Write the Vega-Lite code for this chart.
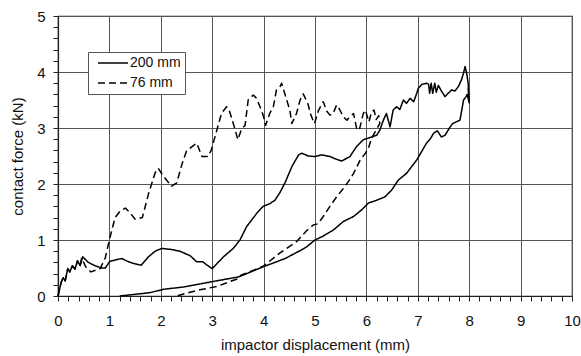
{
  "$schema": "https://vega.github.io/schema/vega-lite/v6.json",
  "width": 514,
  "height": 280,
  "autosize": "none",
  "padding": {"left": 58, "top": 16, "right": 9, "bottom": 60},
  "background": "white",
  "config": {
    "font": "Liberation Sans",
    "view": {"stroke": "#222", "strokeWidth": 1.2},
    "axis": {
      "domainColor": "#222",
      "domainWidth": 1.2,
      "tickColor": "#222",
      "tickSize": 5,
      "tickWidth": 1,
      "labelColor": "#111",
      "titleColor": "#111",
      "labelFont": "Liberation Sans",
      "titleFont": "Liberation Sans",
      "labelFontSize": 15,
      "titleFontSize": 15,
      "titleFontWeight": "normal",
      "gridColor": "#555",
      "gridWidth": 1
    }
  },
  "datasets": {
    "curves": [
      {"series": "200 mm", "i": 1, "x": 0, "y": 0},
      {"series": "200 mm", "i": 2, "x": 0.06, "y": 0.24},
      {"series": "200 mm", "i": 3, "x": 0.1, "y": 0.33},
      {"series": "200 mm", "i": 4, "x": 0.14, "y": 0.27},
      {"series": "200 mm", "i": 5, "x": 0.19, "y": 0.49},
      {"series": "200 mm", "i": 6, "x": 0.23, "y": 0.43},
      {"series": "200 mm", "i": 7, "x": 0.28, "y": 0.54},
      {"series": "200 mm", "i": 8, "x": 0.33, "y": 0.48},
      {"series": "200 mm", "i": 9, "x": 0.38, "y": 0.63},
      {"series": "200 mm", "i": 10, "x": 0.43, "y": 0.54},
      {"series": "200 mm", "i": 11, "x": 0.48, "y": 0.70},
      {"series": "200 mm", "i": 12, "x": 0.59, "y": 0.60},
      {"series": "200 mm", "i": 13, "x": 0.72, "y": 0.54},
      {"series": "200 mm", "i": 14, "x": 0.85, "y": 0.50},
      {"series": "200 mm", "i": 15, "x": 0.92, "y": 0.50},
      {"series": "200 mm", "i": 16, "x": 1.01, "y": 0.62},
      {"series": "200 mm", "i": 17, "x": 1.1, "y": 0.64},
      {"series": "200 mm", "i": 18, "x": 1.24, "y": 0.67},
      {"series": "200 mm", "i": 19, "x": 1.35, "y": 0.62},
      {"series": "200 mm", "i": 20, "x": 1.47, "y": 0.58},
      {"series": "200 mm", "i": 21, "x": 1.62, "y": 0.55},
      {"series": "200 mm", "i": 22, "x": 1.76, "y": 0.70},
      {"series": "200 mm", "i": 23, "x": 1.89, "y": 0.80},
      {"series": "200 mm", "i": 24, "x": 2.02, "y": 0.85},
      {"series": "200 mm", "i": 25, "x": 2.21, "y": 0.83},
      {"series": "200 mm", "i": 26, "x": 2.37, "y": 0.80},
      {"series": "200 mm", "i": 27, "x": 2.57, "y": 0.72},
      {"series": "200 mm", "i": 28, "x": 2.70, "y": 0.61},
      {"series": "200 mm", "i": 29, "x": 2.82, "y": 0.61},
      {"series": "200 mm", "i": 30, "x": 2.90, "y": 0.55},
      {"series": "200 mm", "i": 31, "x": 3.0, "y": 0.49},
      {"series": "200 mm", "i": 32, "x": 3.22, "y": 0.70},
      {"series": "200 mm", "i": 33, "x": 3.41, "y": 0.85},
      {"series": "200 mm", "i": 34, "x": 3.54, "y": 1.0},
      {"series": "200 mm", "i": 35, "x": 3.67, "y": 1.24},
      {"series": "200 mm", "i": 36, "x": 3.87, "y": 1.48},
      {"series": "200 mm", "i": 37, "x": 3.99, "y": 1.60},
      {"series": "200 mm", "i": 38, "x": 4.12, "y": 1.65},
      {"series": "200 mm", "i": 39, "x": 4.22, "y": 1.71},
      {"series": "200 mm", "i": 40, "x": 4.32, "y": 1.85},
      {"series": "200 mm", "i": 41, "x": 4.42, "y": 2.03},
      {"series": "200 mm", "i": 42, "x": 4.55, "y": 2.31},
      {"series": "200 mm", "i": 43, "x": 4.68, "y": 2.52},
      {"series": "200 mm", "i": 44, "x": 4.74, "y": 2.55},
      {"series": "200 mm", "i": 45, "x": 4.87, "y": 2.50},
      {"series": "200 mm", "i": 46, "x": 5.0, "y": 2.49},
      {"series": "200 mm", "i": 47, "x": 5.13, "y": 2.52},
      {"series": "200 mm", "i": 48, "x": 5.29, "y": 2.49},
      {"series": "200 mm", "i": 49, "x": 5.42, "y": 2.44},
      {"series": "200 mm", "i": 50, "x": 5.52, "y": 2.41},
      {"series": "200 mm", "i": 51, "x": 5.68, "y": 2.49},
      {"series": "200 mm", "i": 52, "x": 5.81, "y": 2.67},
      {"series": "200 mm", "i": 53, "x": 5.94, "y": 2.79},
      {"series": "200 mm", "i": 54, "x": 6.07, "y": 2.83},
      {"series": "200 mm", "i": 55, "x": 6.20, "y": 2.87},
      {"series": "200 mm", "i": 56, "x": 6.26, "y": 2.96},
      {"series": "200 mm", "i": 57, "x": 6.33, "y": 3.14},
      {"series": "200 mm", "i": 58, "x": 6.39, "y": 3.26},
      {"series": "200 mm", "i": 59, "x": 6.46, "y": 3.02},
      {"series": "200 mm", "i": 60, "x": 6.52, "y": 3.32},
      {"series": "200 mm", "i": 61, "x": 6.59, "y": 3.38},
      {"series": "200 mm", "i": 62, "x": 6.65, "y": 3.33},
      {"series": "200 mm", "i": 63, "x": 6.72, "y": 3.50},
      {"series": "200 mm", "i": 64, "x": 6.78, "y": 3.44},
      {"series": "200 mm", "i": 65, "x": 6.85, "y": 3.53},
      {"series": "200 mm", "i": 66, "x": 6.92, "y": 3.47},
      {"series": "200 mm", "i": 67, "x": 6.98, "y": 3.62},
      {"series": "200 mm", "i": 68, "x": 7.01, "y": 3.71},
      {"series": "200 mm", "i": 69, "x": 7.08, "y": 3.78},
      {"series": "200 mm", "i": 70, "x": 7.17, "y": 3.80},
      {"series": "200 mm", "i": 71, "x": 7.21, "y": 3.78},
      {"series": "200 mm", "i": 72, "x": 7.23, "y": 3.62},
      {"series": "200 mm", "i": 73, "x": 7.26, "y": 3.80},
      {"series": "200 mm", "i": 74, "x": 7.29, "y": 3.62},
      {"series": "200 mm", "i": 75, "x": 7.33, "y": 3.80},
      {"series": "200 mm", "i": 76, "x": 7.36, "y": 3.64},
      {"series": "200 mm", "i": 77, "x": 7.40, "y": 3.76},
      {"series": "200 mm", "i": 78, "x": 7.46, "y": 3.66},
      {"series": "200 mm", "i": 79, "x": 7.53, "y": 3.56},
      {"series": "200 mm", "i": 80, "x": 7.59, "y": 3.62},
      {"series": "200 mm", "i": 81, "x": 7.66, "y": 3.68},
      {"series": "200 mm", "i": 82, "x": 7.72, "y": 3.66},
      {"series": "200 mm", "i": 83, "x": 7.79, "y": 3.74},
      {"series": "200 mm", "i": 84, "x": 7.85, "y": 3.86},
      {"series": "200 mm", "i": 85, "x": 7.89, "y": 3.98},
      {"series": "200 mm", "i": 86, "x": 7.92, "y": 4.10},
      {"series": "200 mm", "i": 87, "x": 7.95, "y": 3.98},
      {"series": "200 mm", "i": 88, "x": 7.98, "y": 3.80},
      {"series": "200 mm", "i": 89, "x": 8.0, "y": 3.50},
      {"series": "200 mm", "i": 90, "x": 7.98, "y": 3.70},
      {"series": "200 mm", "i": 91, "x": 8.0, "y": 3.45},
      {"series": "200 mm", "i": 92, "x": 7.96, "y": 3.60},
      {"series": "200 mm", "i": 93, "x": 7.94, "y": 3.56},
      {"series": "200 mm", "i": 94, "x": 7.89, "y": 3.50},
      {"series": "200 mm", "i": 95, "x": 7.85, "y": 3.29},
      {"series": "200 mm", "i": 96, "x": 7.82, "y": 3.14},
      {"series": "200 mm", "i": 97, "x": 7.75, "y": 3.11},
      {"series": "200 mm", "i": 98, "x": 7.68, "y": 3.08},
      {"series": "200 mm", "i": 99, "x": 7.63, "y": 3.02},
      {"series": "200 mm", "i": 100, "x": 7.53, "y": 2.87},
      {"series": "200 mm", "i": 101, "x": 7.46, "y": 2.84},
      {"series": "200 mm", "i": 102, "x": 7.38, "y": 2.95},
      {"series": "200 mm", "i": 103, "x": 7.31, "y": 2.91},
      {"series": "200 mm", "i": 104, "x": 7.24, "y": 2.80},
      {"series": "200 mm", "i": 105, "x": 7.17, "y": 2.73},
      {"series": "200 mm", "i": 106, "x": 6.98, "y": 2.43},
      {"series": "200 mm", "i": 107, "x": 6.78, "y": 2.19},
      {"series": "200 mm", "i": 108, "x": 6.62, "y": 2.07},
      {"series": "200 mm", "i": 109, "x": 6.49, "y": 1.89},
      {"series": "200 mm", "i": 110, "x": 6.36, "y": 1.77},
      {"series": "200 mm", "i": 111, "x": 6.20, "y": 1.71},
      {"series": "200 mm", "i": 112, "x": 6.04, "y": 1.66},
      {"series": "200 mm", "i": 113, "x": 5.91, "y": 1.54},
      {"series": "200 mm", "i": 114, "x": 5.75, "y": 1.42},
      {"series": "200 mm", "i": 115, "x": 5.55, "y": 1.33},
      {"series": "200 mm", "i": 116, "x": 5.36, "y": 1.18},
      {"series": "200 mm", "i": 117, "x": 5.16, "y": 1.07},
      {"series": "200 mm", "i": 118, "x": 5.0, "y": 1.0},
      {"series": "200 mm", "i": 119, "x": 4.84, "y": 0.88},
      {"series": "200 mm", "i": 120, "x": 4.71, "y": 0.81},
      {"series": "200 mm", "i": 121, "x": 4.42, "y": 0.67},
      {"series": "200 mm", "i": 122, "x": 3.99, "y": 0.52},
      {"series": "200 mm", "i": 123, "x": 3.51, "y": 0.34},
      {"series": "200 mm", "i": 124, "x": 3.02, "y": 0.26},
      {"series": "200 mm", "i": 125, "x": 2.44, "y": 0.16},
      {"series": "200 mm", "i": 126, "x": 2.05, "y": 0.12},
      {"series": "200 mm", "i": 127, "x": 1.79, "y": 0.06},
      {"series": "200 mm", "i": 128, "x": 1.5, "y": 0.03},
      {"series": "200 mm", "i": 129, "x": 1.2, "y": 0},
      {"series": "76 mm", "i": 1, "x": 0, "y": 0},
      {"series": "76 mm", "i": 2, "x": 0.06, "y": 0.24},
      {"series": "76 mm", "i": 3, "x": 0.1, "y": 0.33},
      {"series": "76 mm", "i": 4, "x": 0.14, "y": 0.27},
      {"series": "76 mm", "i": 5, "x": 0.19, "y": 0.49},
      {"series": "76 mm", "i": 6, "x": 0.23, "y": 0.43},
      {"series": "76 mm", "i": 7, "x": 0.28, "y": 0.54},
      {"series": "76 mm", "i": 8, "x": 0.33, "y": 0.48},
      {"series": "76 mm", "i": 9, "x": 0.38, "y": 0.63},
      {"series": "76 mm", "i": 10, "x": 0.43, "y": 0.54},
      {"series": "76 mm", "i": 11, "x": 0.46, "y": 0.68},
      {"series": "76 mm", "i": 12, "x": 0.54, "y": 0.52},
      {"series": "76 mm", "i": 13, "x": 0.64, "y": 0.43},
      {"series": "76 mm", "i": 14, "x": 0.82, "y": 0.49},
      {"series": "76 mm", "i": 15, "x": 0.92, "y": 0.68},
      {"series": "76 mm", "i": 16, "x": 1.01, "y": 1.04},
      {"series": "76 mm", "i": 17, "x": 1.11, "y": 1.40},
      {"series": "76 mm", "i": 18, "x": 1.21, "y": 1.52},
      {"series": "76 mm", "i": 19, "x": 1.31, "y": 1.57},
      {"series": "76 mm", "i": 20, "x": 1.40, "y": 1.49},
      {"series": "76 mm", "i": 21, "x": 1.50, "y": 1.37},
      {"series": "76 mm", "i": 22, "x": 1.64, "y": 1.40},
      {"series": "76 mm", "i": 23, "x": 1.76, "y": 1.82},
      {"series": "76 mm", "i": 24, "x": 1.89, "y": 2.20},
      {"series": "76 mm", "i": 25, "x": 1.95, "y": 2.28},
      {"series": "76 mm", "i": 26, "x": 2.05, "y": 2.14},
      {"series": "76 mm", "i": 27, "x": 2.21, "y": 1.96},
      {"series": "76 mm", "i": 28, "x": 2.31, "y": 2.02},
      {"series": "76 mm", "i": 29, "x": 2.41, "y": 2.35},
      {"series": "76 mm", "i": 30, "x": 2.50, "y": 2.59},
      {"series": "76 mm", "i": 31, "x": 2.57, "y": 2.64},
      {"series": "76 mm", "i": 32, "x": 2.70, "y": 2.73},
      {"series": "76 mm", "i": 33, "x": 2.80, "y": 2.49},
      {"series": "76 mm", "i": 34, "x": 2.92, "y": 2.49},
      {"series": "76 mm", "i": 35, "x": 2.98, "y": 2.60},
      {"series": "76 mm", "i": 36, "x": 3.09, "y": 2.96},
      {"series": "76 mm", "i": 37, "x": 3.18, "y": 3.26},
      {"series": "76 mm", "i": 38, "x": 3.28, "y": 3.38},
      {"series": "76 mm", "i": 39, "x": 3.33, "y": 3.32},
      {"series": "76 mm", "i": 40, "x": 3.43, "y": 3.02},
      {"series": "76 mm", "i": 41, "x": 3.50, "y": 2.79},
      {"series": "76 mm", "i": 42, "x": 3.57, "y": 2.98},
      {"series": "76 mm", "i": 43, "x": 3.64, "y": 3.05},
      {"series": "76 mm", "i": 44, "x": 3.70, "y": 3.50},
      {"series": "76 mm", "i": 45, "x": 3.80, "y": 3.59},
      {"series": "76 mm", "i": 46, "x": 3.86, "y": 3.53},
      {"series": "76 mm", "i": 47, "x": 3.93, "y": 3.38},
      {"series": "76 mm", "i": 48, "x": 3.99, "y": 3.23},
      {"series": "76 mm", "i": 49, "x": 4.04, "y": 3.05},
      {"series": "76 mm", "i": 50, "x": 4.12, "y": 3.26},
      {"series": "76 mm", "i": 51, "x": 4.19, "y": 3.38},
      {"series": "76 mm", "i": 52, "x": 4.25, "y": 3.68},
      {"series": "76 mm", "i": 53, "x": 4.32, "y": 3.74},
      {"series": "76 mm", "i": 54, "x": 4.35, "y": 3.80},
      {"series": "76 mm", "i": 55, "x": 4.41, "y": 3.62},
      {"series": "76 mm", "i": 56, "x": 4.51, "y": 3.32},
      {"series": "76 mm", "i": 57, "x": 4.55, "y": 3.08},
      {"series": "76 mm", "i": 58, "x": 4.64, "y": 3.26},
      {"series": "76 mm", "i": 59, "x": 4.71, "y": 3.50},
      {"series": "76 mm", "i": 60, "x": 4.77, "y": 3.61},
      {"series": "76 mm", "i": 61, "x": 4.86, "y": 3.44},
      {"series": "76 mm", "i": 62, "x": 4.92, "y": 3.23},
      {"series": "76 mm", "i": 63, "x": 4.99, "y": 3.08},
      {"series": "76 mm", "i": 64, "x": 5.07, "y": 3.32},
      {"series": "76 mm", "i": 65, "x": 5.16, "y": 3.47},
      {"series": "76 mm", "i": 66, "x": 5.23, "y": 3.30},
      {"series": "76 mm", "i": 67, "x": 5.29, "y": 3.23},
      {"series": "76 mm", "i": 68, "x": 5.35, "y": 3.25},
      {"series": "76 mm", "i": 69, "x": 5.42, "y": 3.41},
      {"series": "76 mm", "i": 70, "x": 5.48, "y": 3.33},
      {"series": "76 mm", "i": 71, "x": 5.55, "y": 3.20},
      {"series": "76 mm", "i": 72, "x": 5.62, "y": 3.14},
      {"series": "76 mm", "i": 73, "x": 5.68, "y": 3.20},
      {"series": "76 mm", "i": 74, "x": 5.75, "y": 3.26},
      {"series": "76 mm", "i": 75, "x": 5.81, "y": 2.99},
      {"series": "76 mm", "i": 76, "x": 5.86, "y": 2.96},
      {"series": "76 mm", "i": 77, "x": 5.94, "y": 3.26},
      {"series": "76 mm", "i": 78, "x": 5.98, "y": 3.32},
      {"series": "76 mm", "i": 79, "x": 6.05, "y": 3.11},
      {"series": "76 mm", "i": 80, "x": 6.10, "y": 3.29},
      {"series": "76 mm", "i": 81, "x": 6.15, "y": 3.32},
      {"series": "76 mm", "i": 82, "x": 6.19, "y": 3.15},
      {"series": "76 mm", "i": 83, "x": 6.24, "y": 3.22},
      {"series": "76 mm", "i": 84, "x": 6.26, "y": 3.08},
      {"series": "76 mm", "i": 85, "x": 6.17, "y": 2.93},
      {"series": "76 mm", "i": 86, "x": 6.10, "y": 2.82},
      {"series": "76 mm", "i": 87, "x": 6.04, "y": 2.64},
      {"series": "76 mm", "i": 88, "x": 5.98, "y": 2.55},
      {"series": "76 mm", "i": 89, "x": 5.88, "y": 2.43},
      {"series": "76 mm", "i": 90, "x": 5.75, "y": 2.19},
      {"series": "76 mm", "i": 91, "x": 5.67, "y": 2.07},
      {"series": "76 mm", "i": 92, "x": 5.55, "y": 1.92},
      {"series": "76 mm", "i": 93, "x": 5.42, "y": 1.77},
      {"series": "76 mm", "i": 94, "x": 5.29, "y": 1.60},
      {"series": "76 mm", "i": 95, "x": 5.16, "y": 1.42},
      {"series": "76 mm", "i": 96, "x": 5.06, "y": 1.29},
      {"series": "76 mm", "i": 97, "x": 4.97, "y": 1.27},
      {"series": "76 mm", "i": 98, "x": 4.84, "y": 1.17},
      {"series": "76 mm", "i": 99, "x": 4.64, "y": 0.97},
      {"series": "76 mm", "i": 100, "x": 4.32, "y": 0.77},
      {"series": "76 mm", "i": 101, "x": 3.99, "y": 0.53},
      {"series": "76 mm", "i": 102, "x": 3.56, "y": 0.37},
      {"series": "76 mm", "i": 103, "x": 3.51, "y": 0.31},
      {"series": "76 mm", "i": 104, "x": 3.35, "y": 0.26},
      {"series": "76 mm", "i": 105, "x": 3.09, "y": 0.17},
      {"series": "76 mm", "i": 106, "x": 2.76, "y": 0.11},
      {"series": "76 mm", "i": 107, "x": 2.50, "y": 0.05},
      {"series": "76 mm", "i": 108, "x": 2.31, "y": 0}
    ]
  },
  "data": {"name": "curves"},
  "mark": {"type": "line", "color": "black", "strokeWidth": 1.5, "strokeJoin": "round"},
  "encoding": {
    "x": {
      "field": "x",
      "type": "quantitative",
      "scale": {"domain": [0, 10], "nice": false, "zero": false},
      "axis": {
        "title": "impactor displacement (mm)",
        "values": [0,0.2,0.4,0.6,0.8,1,1.2,1.4,1.6,1.8,2,2.2,2.4,2.6,2.8,3,3.2,3.4,3.6,3.8,4,4.2,4.4,4.6,4.8,5,5.2,5.4,5.6,5.8,6,6.2,6.4,6.6,6.8,7,7.2,7.4,7.6,7.8,8,8.2,8.4,8.6,8.8,9,9.2,9.4,9.6,9.8,10],
        "labelExpr": "datum.value % 1 === 0 ? format(datum.value, 'd') : ''",
        "grid": true,
        "gridOpacity": {"condition": {"test": "datum.value % 1 === 0", "value": 1}, "value": 0},
        "labelPadding": 12,
        "titlePadding": 9,
        "labelFlush": false,
        "labelOverlap": false
      }
    },
    "y": {
      "field": "y",
      "type": "quantitative",
      "scale": {"domain": [0, 5], "nice": false},
      "axis": {
        "title": "contact force (kN)",
        "values": [0,0.2,0.4,0.6,0.8,1,1.2,1.4,1.6,1.8,2,2.2,2.4,2.6,2.8,3,3.2,3.4,3.6,3.8,4,4.2,4.4,4.6,4.8,5],
        "labelExpr": "datum.value % 1 === 0 ? format(datum.value, 'd') : ''",
        "grid": true,
        "gridOpacity": {"condition": {"test": "datum.value % 1 === 0", "value": 1}, "value": 0},
        "labelPadding": 8,
        "titlePadding": 11,
        "labelFlush": false,
        "labelOverlap": false
      }
    },
    "strokeDash": {
      "field": "series",
      "type": "nominal",
      "scale": {"domain": ["200 mm", "76 mm"], "range": [[1, 0], [7, 4]]},
      "legend": {
        "title": null,
        "orient": "none",
        "legendX": 30,
        "legendY": 36,
        "symbolType": "stroke",
        "symbolSize": 900,
        "symbolStrokeWidth": 1.4,
        "symbolStrokeColor": "black",
        "symbolOffset": 5,
        "clipHeight": 14,
        "labelFontSize": 14,
        "labelFont": "Liberation Sans",
        "labelColor": "#111",
        "labelOffset": 1,
        "padding": 4,
        "rowPadding": 6,
        "strokeColor": "#555",
        "fillColor": "white"
      }
    },
    "order": {"field": "i", "type": "quantitative"}
  }
}
